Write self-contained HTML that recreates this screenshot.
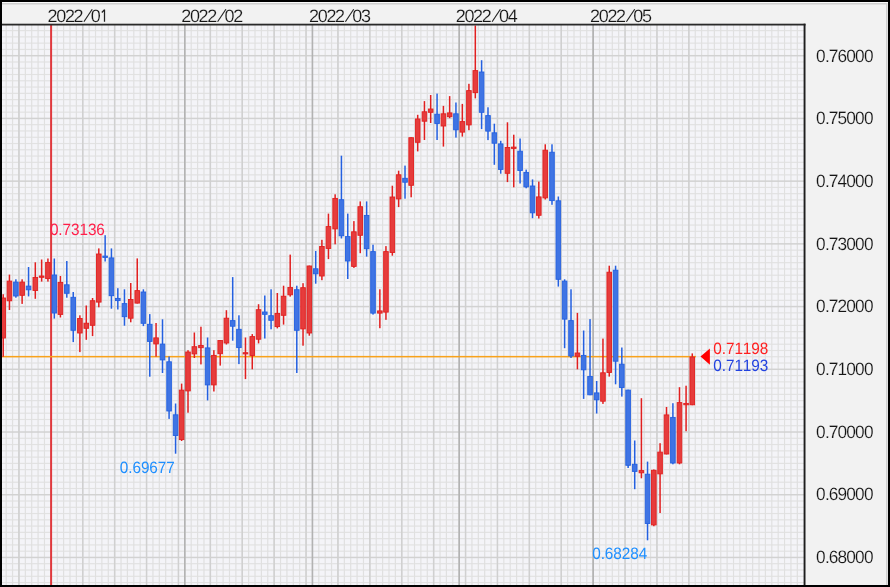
<!DOCTYPE html>
<html><head><meta charset="utf-8"><title>Chart</title>
<style>html,body{margin:0;padding:0;background:#fff;}body{width:890px;height:587px;overflow:hidden;font-family:"Liberation Sans",sans-serif;}</style>
</head><body>
<svg width="890" height="587" viewBox="0 0 890 587" style="display:block">
<rect x="0" y="0" width="890" height="587" fill="#000"/>
<rect x="2" y="2" width="886" height="583" fill="#f2f2f2"/>
<rect x="2" y="2" width="886" height="1" fill="#fafafa"/>
<rect x="2" y="3" width="885" height="1.5" fill="#d0d0d0"/>
<rect x="886" y="3" width="1.5" height="582" fill="#d0d0d0"/>
<rect x="2" y="25" width="802" height="560" fill="#f4f4f8"/>
<defs><clipPath id="pc"><rect x="2" y="25" width="802" height="560"/></clipPath><filter id="bl" x="-5%" y="-5%" width="110%" height="110%"><feGaussianBlur stdDeviation="0.5"/></filter></defs>
<g clip-path="url(#pc)"><g filter="url(#bl)">
<rect x="2" y="30.01" width="802" height="1.2" fill="#e2e2e2"/>
<rect x="2" y="36.28" width="802" height="1.2" fill="#e2e2e2"/>
<rect x="2" y="42.56" width="802" height="1.2" fill="#e2e2e2"/>
<rect x="2" y="48.83" width="802" height="1.2" fill="#e2e2e2"/>
<rect x="2" y="61.37" width="802" height="1.2" fill="#e2e2e2"/>
<rect x="2" y="67.64" width="802" height="1.2" fill="#e2e2e2"/>
<rect x="2" y="73.92" width="802" height="1.2" fill="#e2e2e2"/>
<rect x="2" y="80.19" width="802" height="1.2" fill="#e2e2e2"/>
<rect x="2" y="86.46" width="802" height="1.2" fill="#e2e2e2"/>
<rect x="2" y="92.73" width="802" height="1.2" fill="#e2e2e2"/>
<rect x="2" y="99.00" width="802" height="1.2" fill="#e2e2e2"/>
<rect x="2" y="105.28" width="802" height="1.2" fill="#e2e2e2"/>
<rect x="2" y="111.55" width="802" height="1.2" fill="#e2e2e2"/>
<rect x="2" y="124.09" width="802" height="1.2" fill="#e2e2e2"/>
<rect x="2" y="130.36" width="802" height="1.2" fill="#e2e2e2"/>
<rect x="2" y="136.64" width="802" height="1.2" fill="#e2e2e2"/>
<rect x="2" y="142.91" width="802" height="1.2" fill="#e2e2e2"/>
<rect x="2" y="149.18" width="802" height="1.2" fill="#e2e2e2"/>
<rect x="2" y="155.45" width="802" height="1.2" fill="#e2e2e2"/>
<rect x="2" y="161.72" width="802" height="1.2" fill="#e2e2e2"/>
<rect x="2" y="168.00" width="802" height="1.2" fill="#e2e2e2"/>
<rect x="2" y="174.27" width="802" height="1.2" fill="#e2e2e2"/>
<rect x="2" y="186.81" width="802" height="1.2" fill="#e2e2e2"/>
<rect x="2" y="193.08" width="802" height="1.2" fill="#e2e2e2"/>
<rect x="2" y="199.36" width="802" height="1.2" fill="#e2e2e2"/>
<rect x="2" y="205.63" width="802" height="1.2" fill="#e2e2e2"/>
<rect x="2" y="211.90" width="802" height="1.2" fill="#e2e2e2"/>
<rect x="2" y="218.17" width="802" height="1.2" fill="#e2e2e2"/>
<rect x="2" y="224.44" width="802" height="1.2" fill="#e2e2e2"/>
<rect x="2" y="230.72" width="802" height="1.2" fill="#e2e2e2"/>
<rect x="2" y="236.99" width="802" height="1.2" fill="#e2e2e2"/>
<rect x="2" y="249.53" width="802" height="1.2" fill="#e2e2e2"/>
<rect x="2" y="255.80" width="802" height="1.2" fill="#e2e2e2"/>
<rect x="2" y="262.08" width="802" height="1.2" fill="#e2e2e2"/>
<rect x="2" y="268.35" width="802" height="1.2" fill="#e2e2e2"/>
<rect x="2" y="274.62" width="802" height="1.2" fill="#e2e2e2"/>
<rect x="2" y="280.89" width="802" height="1.2" fill="#e2e2e2"/>
<rect x="2" y="287.16" width="802" height="1.2" fill="#e2e2e2"/>
<rect x="2" y="293.44" width="802" height="1.2" fill="#e2e2e2"/>
<rect x="2" y="299.71" width="802" height="1.2" fill="#e2e2e2"/>
<rect x="2" y="312.25" width="802" height="1.2" fill="#e2e2e2"/>
<rect x="2" y="318.52" width="802" height="1.2" fill="#e2e2e2"/>
<rect x="2" y="324.80" width="802" height="1.2" fill="#e2e2e2"/>
<rect x="2" y="331.07" width="802" height="1.2" fill="#e2e2e2"/>
<rect x="2" y="337.34" width="802" height="1.2" fill="#e2e2e2"/>
<rect x="2" y="343.61" width="802" height="1.2" fill="#e2e2e2"/>
<rect x="2" y="349.88" width="802" height="1.2" fill="#e2e2e2"/>
<rect x="2" y="356.16" width="802" height="1.2" fill="#e2e2e2"/>
<rect x="2" y="362.43" width="802" height="1.2" fill="#e2e2e2"/>
<rect x="2" y="374.97" width="802" height="1.2" fill="#e2e2e2"/>
<rect x="2" y="381.24" width="802" height="1.2" fill="#e2e2e2"/>
<rect x="2" y="387.52" width="802" height="1.2" fill="#e2e2e2"/>
<rect x="2" y="393.79" width="802" height="1.2" fill="#e2e2e2"/>
<rect x="2" y="400.06" width="802" height="1.2" fill="#e2e2e2"/>
<rect x="2" y="406.33" width="802" height="1.2" fill="#e2e2e2"/>
<rect x="2" y="412.60" width="802" height="1.2" fill="#e2e2e2"/>
<rect x="2" y="418.88" width="802" height="1.2" fill="#e2e2e2"/>
<rect x="2" y="425.15" width="802" height="1.2" fill="#e2e2e2"/>
<rect x="2" y="437.69" width="802" height="1.2" fill="#e2e2e2"/>
<rect x="2" y="443.96" width="802" height="1.2" fill="#e2e2e2"/>
<rect x="2" y="450.24" width="802" height="1.2" fill="#e2e2e2"/>
<rect x="2" y="456.51" width="802" height="1.2" fill="#e2e2e2"/>
<rect x="2" y="462.78" width="802" height="1.2" fill="#e2e2e2"/>
<rect x="2" y="469.05" width="802" height="1.2" fill="#e2e2e2"/>
<rect x="2" y="475.32" width="802" height="1.2" fill="#e2e2e2"/>
<rect x="2" y="481.60" width="802" height="1.2" fill="#e2e2e2"/>
<rect x="2" y="487.87" width="802" height="1.2" fill="#e2e2e2"/>
<rect x="2" y="500.41" width="802" height="1.2" fill="#e2e2e2"/>
<rect x="2" y="506.68" width="802" height="1.2" fill="#e2e2e2"/>
<rect x="2" y="512.96" width="802" height="1.2" fill="#e2e2e2"/>
<rect x="2" y="519.23" width="802" height="1.2" fill="#e2e2e2"/>
<rect x="2" y="525.50" width="802" height="1.2" fill="#e2e2e2"/>
<rect x="2" y="531.77" width="802" height="1.2" fill="#e2e2e2"/>
<rect x="2" y="538.04" width="802" height="1.2" fill="#e2e2e2"/>
<rect x="2" y="544.32" width="802" height="1.2" fill="#e2e2e2"/>
<rect x="2" y="550.59" width="802" height="1.2" fill="#e2e2e2"/>
<rect x="2" y="563.13" width="802" height="1.2" fill="#e2e2e2"/>
<rect x="2" y="569.40" width="802" height="1.2" fill="#e2e2e2"/>
<rect x="2" y="575.68" width="802" height="1.2" fill="#e2e2e2"/>
<rect x="2" y="581.95" width="802" height="1.2" fill="#e2e2e2"/>
<rect x="5.59" y="25" width="1.2" height="560" fill="#e0e0e0"/>
<rect x="11.97" y="25" width="1.2" height="560" fill="#e0e0e0"/>
<rect x="18.35" y="25" width="1.2" height="560" fill="#e0e0e0"/>
<rect x="24.73" y="25" width="1.2" height="560" fill="#e0e0e0"/>
<rect x="31.11" y="25" width="1.2" height="560" fill="#e0e0e0"/>
<rect x="37.49" y="25" width="1.2" height="560" fill="#e0e0e0"/>
<rect x="43.87" y="25" width="1.2" height="560" fill="#e0e0e0"/>
<rect x="50.25" y="25" width="1.2" height="560" fill="#e0e0e0"/>
<rect x="56.63" y="25" width="1.2" height="560" fill="#e0e0e0"/>
<rect x="63.01" y="25" width="1.2" height="560" fill="#e0e0e0"/>
<rect x="69.39" y="25" width="1.2" height="560" fill="#e0e0e0"/>
<rect x="75.77" y="25" width="1.2" height="560" fill="#e0e0e0"/>
<rect x="82.15" y="25" width="1.2" height="560" fill="#e0e0e0"/>
<rect x="88.53" y="25" width="1.2" height="560" fill="#e0e0e0"/>
<rect x="94.91" y="25" width="1.2" height="560" fill="#e0e0e0"/>
<rect x="101.29" y="25" width="1.2" height="560" fill="#e0e0e0"/>
<rect x="107.67" y="25" width="1.2" height="560" fill="#e0e0e0"/>
<rect x="114.05" y="25" width="1.2" height="560" fill="#e0e0e0"/>
<rect x="120.43" y="25" width="1.2" height="560" fill="#e0e0e0"/>
<rect x="126.81" y="25" width="1.2" height="560" fill="#e0e0e0"/>
<rect x="133.19" y="25" width="1.2" height="560" fill="#e0e0e0"/>
<rect x="139.57" y="25" width="1.2" height="560" fill="#e0e0e0"/>
<rect x="145.95" y="25" width="1.2" height="560" fill="#e0e0e0"/>
<rect x="152.33" y="25" width="1.2" height="560" fill="#e0e0e0"/>
<rect x="158.71" y="25" width="1.2" height="560" fill="#e0e0e0"/>
<rect x="165.09" y="25" width="1.2" height="560" fill="#e0e0e0"/>
<rect x="171.47" y="25" width="1.2" height="560" fill="#e0e0e0"/>
<rect x="177.85" y="25" width="1.2" height="560" fill="#e0e0e0"/>
<rect x="184.23" y="25" width="1.2" height="560" fill="#e0e0e0"/>
<rect x="190.61" y="25" width="1.2" height="560" fill="#e0e0e0"/>
<rect x="196.99" y="25" width="1.2" height="560" fill="#e0e0e0"/>
<rect x="203.37" y="25" width="1.2" height="560" fill="#e0e0e0"/>
<rect x="209.75" y="25" width="1.2" height="560" fill="#e0e0e0"/>
<rect x="216.13" y="25" width="1.2" height="560" fill="#e0e0e0"/>
<rect x="222.51" y="25" width="1.2" height="560" fill="#e0e0e0"/>
<rect x="228.89" y="25" width="1.2" height="560" fill="#e0e0e0"/>
<rect x="235.27" y="25" width="1.2" height="560" fill="#e0e0e0"/>
<rect x="241.65" y="25" width="1.2" height="560" fill="#e0e0e0"/>
<rect x="248.03" y="25" width="1.2" height="560" fill="#e0e0e0"/>
<rect x="254.41" y="25" width="1.2" height="560" fill="#e0e0e0"/>
<rect x="260.79" y="25" width="1.2" height="560" fill="#e0e0e0"/>
<rect x="267.17" y="25" width="1.2" height="560" fill="#e0e0e0"/>
<rect x="273.55" y="25" width="1.2" height="560" fill="#e0e0e0"/>
<rect x="279.93" y="25" width="1.2" height="560" fill="#e0e0e0"/>
<rect x="286.31" y="25" width="1.2" height="560" fill="#e0e0e0"/>
<rect x="292.69" y="25" width="1.2" height="560" fill="#e0e0e0"/>
<rect x="299.07" y="25" width="1.2" height="560" fill="#e0e0e0"/>
<rect x="305.45" y="25" width="1.2" height="560" fill="#e0e0e0"/>
<rect x="311.83" y="25" width="1.2" height="560" fill="#e0e0e0"/>
<rect x="318.21" y="25" width="1.2" height="560" fill="#e0e0e0"/>
<rect x="324.59" y="25" width="1.2" height="560" fill="#e0e0e0"/>
<rect x="330.97" y="25" width="1.2" height="560" fill="#e0e0e0"/>
<rect x="337.35" y="25" width="1.2" height="560" fill="#e0e0e0"/>
<rect x="343.73" y="25" width="1.2" height="560" fill="#e0e0e0"/>
<rect x="350.11" y="25" width="1.2" height="560" fill="#e0e0e0"/>
<rect x="356.49" y="25" width="1.2" height="560" fill="#e0e0e0"/>
<rect x="362.87" y="25" width="1.2" height="560" fill="#e0e0e0"/>
<rect x="369.25" y="25" width="1.2" height="560" fill="#e0e0e0"/>
<rect x="375.63" y="25" width="1.2" height="560" fill="#e0e0e0"/>
<rect x="382.01" y="25" width="1.2" height="560" fill="#e0e0e0"/>
<rect x="388.39" y="25" width="1.2" height="560" fill="#e0e0e0"/>
<rect x="394.77" y="25" width="1.2" height="560" fill="#e0e0e0"/>
<rect x="401.15" y="25" width="1.2" height="560" fill="#e0e0e0"/>
<rect x="407.53" y="25" width="1.2" height="560" fill="#e0e0e0"/>
<rect x="413.91" y="25" width="1.2" height="560" fill="#e0e0e0"/>
<rect x="420.29" y="25" width="1.2" height="560" fill="#e0e0e0"/>
<rect x="426.67" y="25" width="1.2" height="560" fill="#e0e0e0"/>
<rect x="433.05" y="25" width="1.2" height="560" fill="#e0e0e0"/>
<rect x="439.43" y="25" width="1.2" height="560" fill="#e0e0e0"/>
<rect x="445.81" y="25" width="1.2" height="560" fill="#e0e0e0"/>
<rect x="452.19" y="25" width="1.2" height="560" fill="#e0e0e0"/>
<rect x="458.57" y="25" width="1.2" height="560" fill="#e0e0e0"/>
<rect x="464.95" y="25" width="1.2" height="560" fill="#e0e0e0"/>
<rect x="471.33" y="25" width="1.2" height="560" fill="#e0e0e0"/>
<rect x="477.71" y="25" width="1.2" height="560" fill="#e0e0e0"/>
<rect x="484.09" y="25" width="1.2" height="560" fill="#e0e0e0"/>
<rect x="490.47" y="25" width="1.2" height="560" fill="#e0e0e0"/>
<rect x="496.85" y="25" width="1.2" height="560" fill="#e0e0e0"/>
<rect x="503.23" y="25" width="1.2" height="560" fill="#e0e0e0"/>
<rect x="509.61" y="25" width="1.2" height="560" fill="#e0e0e0"/>
<rect x="515.99" y="25" width="1.2" height="560" fill="#e0e0e0"/>
<rect x="522.37" y="25" width="1.2" height="560" fill="#e0e0e0"/>
<rect x="528.75" y="25" width="1.2" height="560" fill="#e0e0e0"/>
<rect x="535.13" y="25" width="1.2" height="560" fill="#e0e0e0"/>
<rect x="541.51" y="25" width="1.2" height="560" fill="#e0e0e0"/>
<rect x="547.89" y="25" width="1.2" height="560" fill="#e0e0e0"/>
<rect x="554.27" y="25" width="1.2" height="560" fill="#e0e0e0"/>
<rect x="560.65" y="25" width="1.2" height="560" fill="#e0e0e0"/>
<rect x="567.03" y="25" width="1.2" height="560" fill="#e0e0e0"/>
<rect x="573.41" y="25" width="1.2" height="560" fill="#e0e0e0"/>
<rect x="579.79" y="25" width="1.2" height="560" fill="#e0e0e0"/>
<rect x="586.17" y="25" width="1.2" height="560" fill="#e0e0e0"/>
<rect x="592.55" y="25" width="1.2" height="560" fill="#e0e0e0"/>
<rect x="598.93" y="25" width="1.2" height="560" fill="#e0e0e0"/>
<rect x="605.31" y="25" width="1.2" height="560" fill="#e0e0e0"/>
<rect x="611.69" y="25" width="1.2" height="560" fill="#e0e0e0"/>
<rect x="618.07" y="25" width="1.2" height="560" fill="#e0e0e0"/>
<rect x="624.45" y="25" width="1.2" height="560" fill="#e0e0e0"/>
<rect x="630.83" y="25" width="1.2" height="560" fill="#e0e0e0"/>
<rect x="637.21" y="25" width="1.2" height="560" fill="#e0e0e0"/>
<rect x="643.59" y="25" width="1.2" height="560" fill="#e0e0e0"/>
<rect x="649.97" y="25" width="1.2" height="560" fill="#e0e0e0"/>
<rect x="656.35" y="25" width="1.2" height="560" fill="#e0e0e0"/>
<rect x="662.73" y="25" width="1.2" height="560" fill="#e0e0e0"/>
<rect x="669.11" y="25" width="1.2" height="560" fill="#e0e0e0"/>
<rect x="675.49" y="25" width="1.2" height="560" fill="#e0e0e0"/>
<rect x="681.87" y="25" width="1.2" height="560" fill="#e0e0e0"/>
<rect x="688.25" y="25" width="1.2" height="560" fill="#e0e0e0"/>
<rect x="694.63" y="25" width="1.2" height="560" fill="#e0e0e0"/>
<rect x="701.01" y="25" width="1.2" height="560" fill="#e0e0e0"/>
<rect x="707.39" y="25" width="1.2" height="560" fill="#e0e0e0"/>
<rect x="713.77" y="25" width="1.2" height="560" fill="#e0e0e0"/>
<rect x="720.15" y="25" width="1.2" height="560" fill="#e0e0e0"/>
<rect x="726.53" y="25" width="1.2" height="560" fill="#e0e0e0"/>
<rect x="732.91" y="25" width="1.2" height="560" fill="#e0e0e0"/>
<rect x="739.29" y="25" width="1.2" height="560" fill="#e0e0e0"/>
<rect x="745.67" y="25" width="1.2" height="560" fill="#e0e0e0"/>
<rect x="752.05" y="25" width="1.2" height="560" fill="#e0e0e0"/>
<rect x="758.43" y="25" width="1.2" height="560" fill="#e0e0e0"/>
<rect x="764.81" y="25" width="1.2" height="560" fill="#e0e0e0"/>
<rect x="771.19" y="25" width="1.2" height="560" fill="#e0e0e0"/>
<rect x="777.57" y="25" width="1.2" height="560" fill="#e0e0e0"/>
<rect x="783.95" y="25" width="1.2" height="560" fill="#e0e0e0"/>
<rect x="790.33" y="25" width="1.2" height="560" fill="#e0e0e0"/>
<rect x="796.71" y="25" width="1.2" height="560" fill="#e0e0e0"/>
<rect x="2" y="54.95" width="802" height="1.5" fill="#d2d2d2"/>
<rect x="2" y="117.67" width="802" height="1.5" fill="#d2d2d2"/>
<rect x="2" y="180.39" width="802" height="1.5" fill="#d2d2d2"/>
<rect x="2" y="243.11" width="802" height="1.5" fill="#d2d2d2"/>
<rect x="2" y="305.83" width="802" height="1.5" fill="#d2d2d2"/>
<rect x="2" y="368.55" width="802" height="1.5" fill="#d2d2d2"/>
<rect x="2" y="431.27" width="802" height="1.5" fill="#d2d2d2"/>
<rect x="2" y="493.99" width="802" height="1.5" fill="#d2d2d2"/>
<rect x="2" y="556.71" width="802" height="1.5" fill="#d2d2d2"/>
<rect x="18.20" y="25" width="1.5" height="560" fill="#d0d0d0"/>
<rect x="82.00" y="25" width="1.5" height="560" fill="#d0d0d0"/>
<rect x="113.90" y="25" width="1.5" height="560" fill="#d0d0d0"/>
<rect x="145.80" y="25" width="1.5" height="560" fill="#d0d0d0"/>
<rect x="177.70" y="25" width="1.5" height="560" fill="#d0d0d0"/>
<rect x="209.60" y="25" width="1.5" height="560" fill="#d0d0d0"/>
<rect x="241.50" y="25" width="1.5" height="560" fill="#d0d0d0"/>
<rect x="273.40" y="25" width="1.5" height="560" fill="#d0d0d0"/>
<rect x="305.30" y="25" width="1.5" height="560" fill="#d0d0d0"/>
<rect x="337.20" y="25" width="1.5" height="560" fill="#d0d0d0"/>
<rect x="369.10" y="25" width="1.5" height="560" fill="#d0d0d0"/>
<rect x="401.00" y="25" width="1.5" height="560" fill="#d0d0d0"/>
<rect x="432.90" y="25" width="1.5" height="560" fill="#d0d0d0"/>
<rect x="464.80" y="25" width="1.5" height="560" fill="#d0d0d0"/>
<rect x="496.70" y="25" width="1.5" height="560" fill="#d0d0d0"/>
<rect x="528.60" y="25" width="1.5" height="560" fill="#d0d0d0"/>
<rect x="560.50" y="25" width="1.5" height="560" fill="#d0d0d0"/>
<rect x="592.40" y="25" width="1.5" height="560" fill="#d0d0d0"/>
<rect x="624.30" y="25" width="1.5" height="560" fill="#d0d0d0"/>
<rect x="656.20" y="25" width="1.5" height="560" fill="#d0d0d0"/>
<rect x="688.10" y="25" width="1.5" height="560" fill="#d0d0d0"/>
<rect x="184.03" y="25" width="1.6" height="560" fill="#b2b2b2"/>
<rect x="311.63" y="25" width="1.6" height="560" fill="#b2b2b2"/>
<rect x="458.37" y="25" width="1.6" height="560" fill="#b2b2b2"/>
<rect x="592.35" y="25" width="1.6" height="560" fill="#b2b2b2"/>
<rect x="50.1" y="25" width="2" height="560" fill="#e0393d"/>
</g>
<rect x="2" y="355.9" width="694" height="1.5" fill="#f9a21a"/>
<rect x="2.45" y="294.2" width="1.5" height="62.6" fill="#e11f1f"/>
<rect x="0.90" y="298.0" width="4.6" height="40.0" fill="#e63c3c" stroke="#e11f1f" stroke-width="0.9"/>
<rect x="8.69" y="274.6" width="1.5" height="35.4" fill="#e11f1f"/>
<rect x="7.14" y="281.1" width="4.6" height="19.7" fill="#e63c3c" stroke="#e11f1f" stroke-width="0.9"/>
<rect x="15.13" y="279.3" width="1.5" height="18.4" fill="#2460e0"/>
<rect x="13.58" y="282.1" width="4.6" height="13.9" fill="#3f74e4" stroke="#2460e0" stroke-width="0.9"/>
<rect x="21.37" y="279.3" width="1.5" height="24.6" fill="#e11f1f"/>
<rect x="19.82" y="282.1" width="4.6" height="13.2" fill="#e63c3c" stroke="#e11f1f" stroke-width="0.9"/>
<rect x="27.81" y="267.0" width="1.5" height="29.4" fill="#2460e0"/>
<rect x="26.26" y="286.1" width="4.6" height="3.7" fill="#3f74e4" stroke="#2460e0" stroke-width="0.9"/>
<rect x="34.55" y="262.3" width="1.5" height="36.5" fill="#e11f1f"/>
<rect x="33.00" y="277.4" width="4.6" height="13.1" fill="#e63c3c" stroke="#e11f1f" stroke-width="0.9"/>
<rect x="40.89" y="259.5" width="1.5" height="22.1" fill="#e11f1f"/>
<rect x="39.34" y="276.0" width="4.6" height="1.3" fill="#e63c3c" stroke="#e11f1f" stroke-width="0.9"/>
<rect x="47.18" y="258.5" width="1.5" height="23.1" fill="#e11f1f"/>
<rect x="45.63" y="262.4" width="4.6" height="16.2" fill="#e63c3c" stroke="#e11f1f" stroke-width="0.9"/>
<rect x="53.57" y="258.5" width="1.5" height="60.1" fill="#2460e0"/>
<rect x="52.02" y="275.0" width="4.6" height="38.0" fill="#3f74e4" stroke="#2460e0" stroke-width="0.9"/>
<rect x="59.66" y="276.0" width="1.5" height="41.5" fill="#e11f1f"/>
<rect x="58.11" y="282.4" width="4.6" height="32.0" fill="#e63c3c" stroke="#e11f1f" stroke-width="0.9"/>
<rect x="66.05" y="261.0" width="1.5" height="36.7" fill="#2460e0"/>
<rect x="64.50" y="284.8" width="4.6" height="8.5" fill="#3f74e4" stroke="#2460e0" stroke-width="0.9"/>
<rect x="72.49" y="292.0" width="1.5" height="50.1" fill="#2460e0"/>
<rect x="70.94" y="297.3" width="4.6" height="33.0" fill="#3f74e4" stroke="#2460e0" stroke-width="0.9"/>
<rect x="79.13" y="315.3" width="1.5" height="36.8" fill="#e11f1f"/>
<rect x="77.58" y="318.5" width="4.6" height="14.5" fill="#e63c3c" stroke="#e11f1f" stroke-width="0.9"/>
<rect x="85.52" y="305.5" width="1.5" height="34.3" fill="#e11f1f"/>
<rect x="83.97" y="323.2" width="4.6" height="5.1" fill="#e63c3c" stroke="#e11f1f" stroke-width="0.9"/>
<rect x="91.81" y="298.0" width="1.5" height="38.1" fill="#e11f1f"/>
<rect x="90.26" y="300.7" width="4.6" height="24.6" fill="#e63c3c" stroke="#e11f1f" stroke-width="0.9"/>
<rect x="98.05" y="248.4" width="1.5" height="58.9" fill="#e11f1f"/>
<rect x="96.50" y="254.0" width="4.6" height="48.1" fill="#e63c3c" stroke="#e11f1f" stroke-width="0.9"/>
<rect x="104.39" y="235.2" width="1.5" height="26.3" fill="#2460e0"/>
<rect x="102.84" y="256.1" width="4.6" height="1.3" fill="#3f74e4" stroke="#2460e0" stroke-width="0.9"/>
<rect x="110.68" y="248.4" width="1.5" height="60.3" fill="#2460e0"/>
<rect x="109.13" y="257.9" width="4.6" height="37.8" fill="#3f74e4" stroke="#2460e0" stroke-width="0.9"/>
<rect x="117.07" y="288.2" width="1.5" height="21.3" fill="#2460e0"/>
<rect x="115.52" y="298.4" width="4.6" height="2.2" fill="#3f74e4" stroke="#2460e0" stroke-width="0.9"/>
<rect x="123.71" y="289.3" width="1.5" height="36.4" fill="#2460e0"/>
<rect x="122.16" y="303.6" width="4.6" height="13.1" fill="#3f74e4" stroke="#2460e0" stroke-width="0.9"/>
<rect x="130.00" y="283.0" width="1.5" height="39.3" fill="#e11f1f"/>
<rect x="128.45" y="299.5" width="4.6" height="18.7" fill="#e63c3c" stroke="#e11f1f" stroke-width="0.9"/>
<rect x="136.49" y="258.4" width="1.5" height="45.1" fill="#e11f1f"/>
<rect x="134.94" y="290.6" width="4.6" height="12.5" fill="#e63c3c" stroke="#e11f1f" stroke-width="0.9"/>
<rect x="142.63" y="289.3" width="1.5" height="36.8" fill="#2460e0"/>
<rect x="141.08" y="292.0" width="4.6" height="31.3" fill="#3f74e4" stroke="#2460e0" stroke-width="0.9"/>
<rect x="149.02" y="314.1" width="1.5" height="62.6" fill="#2460e0"/>
<rect x="147.47" y="324.3" width="4.6" height="17.1" fill="#3f74e4" stroke="#2460e0" stroke-width="0.9"/>
<rect x="155.31" y="323.0" width="1.5" height="33.6" fill="#e11f1f"/>
<rect x="153.76" y="337.9" width="4.6" height="6.0" fill="#e63c3c" stroke="#e11f1f" stroke-width="0.9"/>
<rect x="161.75" y="319.3" width="1.5" height="53.7" fill="#2460e0"/>
<rect x="160.20" y="344.1" width="4.6" height="15.8" fill="#3f74e4" stroke="#2460e0" stroke-width="0.9"/>
<rect x="168.34" y="356.5" width="1.5" height="62.4" fill="#2460e0"/>
<rect x="166.79" y="361.8" width="4.6" height="49.2" fill="#3f74e4" stroke="#2460e0" stroke-width="0.9"/>
<rect x="174.83" y="403.5" width="1.5" height="50.2" fill="#2460e0"/>
<rect x="173.28" y="414.8" width="4.6" height="20.7" fill="#3f74e4" stroke="#2460e0" stroke-width="0.9"/>
<rect x="180.87" y="383.6" width="1.5" height="57.4" fill="#e11f1f"/>
<rect x="179.32" y="390.1" width="4.6" height="49.5" fill="#e63c3c" stroke="#e11f1f" stroke-width="0.9"/>
<rect x="187.26" y="350.2" width="1.5" height="62.5" fill="#e11f1f"/>
<rect x="185.71" y="352.0" width="4.6" height="38.9" fill="#e63c3c" stroke="#e11f1f" stroke-width="0.9"/>
<rect x="193.60" y="332.5" width="1.5" height="25.5" fill="#e11f1f"/>
<rect x="192.05" y="346.7" width="4.6" height="7.2" fill="#e63c3c" stroke="#e11f1f" stroke-width="0.9"/>
<rect x="200.19" y="326.7" width="1.5" height="37.7" fill="#e11f1f"/>
<rect x="198.64" y="345.5" width="4.6" height="2.2" fill="#e63c3c" stroke="#e11f1f" stroke-width="0.9"/>
<rect x="206.83" y="337.5" width="1.5" height="62.9" fill="#2460e0"/>
<rect x="205.28" y="347.9" width="4.6" height="37.0" fill="#3f74e4" stroke="#2460e0" stroke-width="0.9"/>
<rect x="213.12" y="350.2" width="1.5" height="41.3" fill="#e11f1f"/>
<rect x="211.57" y="355.4" width="4.6" height="29.5" fill="#e63c3c" stroke="#e11f1f" stroke-width="0.9"/>
<rect x="219.46" y="340.1" width="1.5" height="25.5" fill="#e11f1f"/>
<rect x="217.91" y="340.5" width="4.6" height="13.2" fill="#e63c3c" stroke="#e11f1f" stroke-width="0.9"/>
<rect x="225.65" y="310.2" width="1.5" height="34.3" fill="#e11f1f"/>
<rect x="224.10" y="318.2" width="4.6" height="24.8" fill="#e63c3c" stroke="#e11f1f" stroke-width="0.9"/>
<rect x="231.94" y="277.1" width="1.5" height="63.6" fill="#2460e0"/>
<rect x="230.39" y="320.6" width="4.6" height="5.6" fill="#3f74e4" stroke="#2460e0" stroke-width="0.9"/>
<rect x="238.18" y="315.3" width="1.5" height="48.8" fill="#2460e0"/>
<rect x="236.63" y="329.3" width="4.6" height="18.3" fill="#3f74e4" stroke="#2460e0" stroke-width="0.9"/>
<rect x="244.72" y="337.5" width="1.5" height="41.6" fill="#e11f1f"/>
<rect x="243.17" y="352.7" width="4.6" height="1.2" fill="#e63c3c" stroke="#e11f1f" stroke-width="0.9"/>
<rect x="251.51" y="334.1" width="1.5" height="35.2" fill="#e11f1f"/>
<rect x="249.96" y="336.6" width="4.6" height="18.9" fill="#e63c3c" stroke="#e11f1f" stroke-width="0.9"/>
<rect x="257.80" y="304.2" width="1.5" height="39.2" fill="#e11f1f"/>
<rect x="256.25" y="309.7" width="4.6" height="29.5" fill="#e63c3c" stroke="#e11f1f" stroke-width="0.9"/>
<rect x="264.04" y="295.5" width="1.5" height="43.0" fill="#2460e0"/>
<rect x="262.49" y="312.0" width="4.6" height="2.3" fill="#3f74e4" stroke="#2460e0" stroke-width="0.9"/>
<rect x="270.33" y="289.3" width="1.5" height="40.0" fill="#2460e0"/>
<rect x="268.78" y="315.7" width="4.6" height="4.6" fill="#3f74e4" stroke="#2460e0" stroke-width="0.9"/>
<rect x="276.57" y="293.0" width="1.5" height="35.4" fill="#e11f1f"/>
<rect x="275.02" y="313.4" width="4.6" height="13.2" fill="#e63c3c" stroke="#e11f1f" stroke-width="0.9"/>
<rect x="282.81" y="285.7" width="1.5" height="38.9" fill="#e11f1f"/>
<rect x="281.26" y="296.2" width="4.6" height="19.1" fill="#e63c3c" stroke="#e11f1f" stroke-width="0.9"/>
<rect x="289.45" y="254.6" width="1.5" height="42.0" fill="#e11f1f"/>
<rect x="287.90" y="287.4" width="4.6" height="7.4" fill="#e63c3c" stroke="#e11f1f" stroke-width="0.9"/>
<rect x="296.04" y="285.7" width="1.5" height="87.3" fill="#2460e0"/>
<rect x="294.49" y="289.7" width="4.6" height="40.6" fill="#3f74e4" stroke="#2460e0" stroke-width="0.9"/>
<rect x="302.28" y="283.2" width="1.5" height="62.5" fill="#e11f1f"/>
<rect x="300.73" y="287.7" width="4.6" height="41.2" fill="#e63c3c" stroke="#e11f1f" stroke-width="0.9"/>
<rect x="308.57" y="265.6" width="1.5" height="70.1" fill="#e11f1f"/>
<rect x="307.02" y="266.0" width="4.6" height="67.0" fill="#e63c3c" stroke="#e11f1f" stroke-width="0.9"/>
<rect x="314.96" y="251.0" width="1.5" height="32.7" fill="#2460e0"/>
<rect x="313.41" y="268.8" width="4.6" height="5.0" fill="#3f74e4" stroke="#2460e0" stroke-width="0.9"/>
<rect x="321.15" y="239.8" width="1.5" height="40.4" fill="#e11f1f"/>
<rect x="319.60" y="246.5" width="4.6" height="29.5" fill="#e63c3c" stroke="#e11f1f" stroke-width="0.9"/>
<rect x="327.69" y="213.6" width="1.5" height="45.5" fill="#e11f1f"/>
<rect x="326.14" y="226.6" width="4.6" height="21.8" fill="#e63c3c" stroke="#e11f1f" stroke-width="0.9"/>
<rect x="334.38" y="194.3" width="1.5" height="50.0" fill="#e11f1f"/>
<rect x="332.83" y="198.4" width="4.6" height="30.5" fill="#e63c3c" stroke="#e11f1f" stroke-width="0.9"/>
<rect x="340.67" y="155.7" width="1.5" height="82.8" fill="#2460e0"/>
<rect x="339.12" y="199.7" width="4.6" height="36.1" fill="#3f74e4" stroke="#2460e0" stroke-width="0.9"/>
<rect x="347.01" y="213.6" width="1.5" height="65.4" fill="#2460e0"/>
<rect x="345.46" y="236.6" width="4.6" height="24.4" fill="#3f74e4" stroke="#2460e0" stroke-width="0.9"/>
<rect x="353.15" y="221.1" width="1.5" height="46.8" fill="#e11f1f"/>
<rect x="351.60" y="231.8" width="4.6" height="34.6" fill="#e63c3c" stroke="#e11f1f" stroke-width="0.9"/>
<rect x="359.49" y="201.4" width="1.5" height="51.8" fill="#e11f1f"/>
<rect x="357.94" y="206.7" width="4.6" height="28.6" fill="#e63c3c" stroke="#e11f1f" stroke-width="0.9"/>
<rect x="365.88" y="201.4" width="1.5" height="55.2" fill="#2460e0"/>
<rect x="364.33" y="215.4" width="4.6" height="33.3" fill="#3f74e4" stroke="#2460e0" stroke-width="0.9"/>
<rect x="372.27" y="244.7" width="1.5" height="69.9" fill="#2460e0"/>
<rect x="370.72" y="251.6" width="4.6" height="61.5" fill="#3f74e4" stroke="#2460e0" stroke-width="0.9"/>
<rect x="379.11" y="289.3" width="1.5" height="38.9" fill="#e11f1f"/>
<rect x="377.56" y="310.9" width="4.6" height="2.2" fill="#e63c3c" stroke="#e11f1f" stroke-width="0.9"/>
<rect x="385.20" y="246.1" width="1.5" height="73.7" fill="#e11f1f"/>
<rect x="383.65" y="251.6" width="4.6" height="60.5" fill="#e63c3c" stroke="#e11f1f" stroke-width="0.9"/>
<rect x="391.59" y="185.7" width="1.5" height="70.0" fill="#e11f1f"/>
<rect x="390.04" y="197.0" width="4.6" height="55.5" fill="#e63c3c" stroke="#e11f1f" stroke-width="0.9"/>
<rect x="397.88" y="170.7" width="1.5" height="36.4" fill="#e11f1f"/>
<rect x="396.33" y="174.8" width="4.6" height="24.1" fill="#e63c3c" stroke="#e11f1f" stroke-width="0.9"/>
<rect x="404.27" y="165.6" width="1.5" height="33.1" fill="#2460e0"/>
<rect x="402.72" y="178.3" width="4.6" height="3.9" fill="#3f74e4" stroke="#2460e0" stroke-width="0.9"/>
<rect x="410.41" y="137.3" width="1.5" height="60.0" fill="#e11f1f"/>
<rect x="408.86" y="137.7" width="4.6" height="47.6" fill="#e63c3c" stroke="#e11f1f" stroke-width="0.9"/>
<rect x="416.95" y="114.8" width="1.5" height="36.6" fill="#e11f1f"/>
<rect x="415.40" y="119.0" width="4.6" height="23.3" fill="#e63c3c" stroke="#e11f1f" stroke-width="0.9"/>
<rect x="423.69" y="101.1" width="1.5" height="38.9" fill="#e11f1f"/>
<rect x="422.14" y="111.8" width="4.6" height="9.4" fill="#e63c3c" stroke="#e11f1f" stroke-width="0.9"/>
<rect x="429.93" y="95.0" width="1.5" height="28.0" fill="#e11f1f"/>
<rect x="428.38" y="109.0" width="4.6" height="3.3" fill="#e63c3c" stroke="#e11f1f" stroke-width="0.9"/>
<rect x="436.32" y="93.6" width="1.5" height="46.4" fill="#2460e0"/>
<rect x="434.77" y="114.2" width="4.6" height="9.3" fill="#3f74e4" stroke="#2460e0" stroke-width="0.9"/>
<rect x="442.66" y="105.9" width="1.5" height="40.7" fill="#e11f1f"/>
<rect x="441.11" y="113.8" width="4.6" height="12.2" fill="#e63c3c" stroke="#e11f1f" stroke-width="0.9"/>
<rect x="448.90" y="96.1" width="1.5" height="22.1" fill="#e11f1f"/>
<rect x="447.35" y="112.9" width="4.6" height="3.8" fill="#e63c3c" stroke="#e11f1f" stroke-width="0.9"/>
<rect x="455.19" y="102.5" width="1.5" height="35.1" fill="#2460e0"/>
<rect x="453.64" y="113.8" width="4.6" height="16.0" fill="#3f74e4" stroke="#2460e0" stroke-width="0.9"/>
<rect x="461.58" y="103.9" width="1.5" height="32.7" fill="#e11f1f"/>
<rect x="460.03" y="121.6" width="4.6" height="10.5" fill="#e63c3c" stroke="#e11f1f" stroke-width="0.9"/>
<rect x="468.17" y="83.8" width="1.5" height="46.4" fill="#e11f1f"/>
<rect x="466.62" y="90.6" width="4.6" height="34.3" fill="#e63c3c" stroke="#e11f1f" stroke-width="0.9"/>
<rect x="474.56" y="25.5" width="1.5" height="72.9" fill="#e11f1f"/>
<rect x="473.01" y="70.6" width="4.6" height="22.0" fill="#e63c3c" stroke="#e11f1f" stroke-width="0.9"/>
<rect x="480.85" y="60.2" width="1.5" height="68.9" fill="#2460e0"/>
<rect x="479.30" y="72.0" width="4.6" height="40.3" fill="#3f74e4" stroke="#2460e0" stroke-width="0.9"/>
<rect x="487.24" y="107.3" width="1.5" height="32.8" fill="#2460e0"/>
<rect x="485.69" y="115.6" width="4.6" height="15.5" fill="#3f74e4" stroke="#2460e0" stroke-width="0.9"/>
<rect x="493.58" y="123.7" width="1.5" height="41.1" fill="#2460e0"/>
<rect x="492.03" y="132.8" width="4.6" height="10.4" fill="#3f74e4" stroke="#2460e0" stroke-width="0.9"/>
<rect x="499.97" y="140.8" width="1.5" height="32.9" fill="#2460e0"/>
<rect x="498.42" y="143.9" width="4.6" height="25.5" fill="#3f74e4" stroke="#2460e0" stroke-width="0.9"/>
<rect x="506.71" y="122.3" width="1.5" height="59.8" fill="#e11f1f"/>
<rect x="505.16" y="147.5" width="4.6" height="25.8" fill="#e63c3c" stroke="#e11f1f" stroke-width="0.9"/>
<rect x="513.00" y="134.7" width="1.5" height="52.6" fill="#e11f1f"/>
<rect x="511.45" y="147.1" width="4.6" height="1.3" fill="#e63c3c" stroke="#e11f1f" stroke-width="0.9"/>
<rect x="519.34" y="138.5" width="1.5" height="45.0" fill="#2460e0"/>
<rect x="517.79" y="151.2" width="4.6" height="19.3" fill="#3f74e4" stroke="#2460e0" stroke-width="0.9"/>
<rect x="525.43" y="169.6" width="1.5" height="18.7" fill="#2460e0"/>
<rect x="523.88" y="172.4" width="4.6" height="14.5" fill="#3f74e4" stroke="#2460e0" stroke-width="0.9"/>
<rect x="531.77" y="179.4" width="1.5" height="38.8" fill="#2460e0"/>
<rect x="530.22" y="186.0" width="4.6" height="26.8" fill="#3f74e4" stroke="#2460e0" stroke-width="0.9"/>
<rect x="538.06" y="181.6" width="1.5" height="36.9" fill="#e11f1f"/>
<rect x="536.51" y="196.9" width="4.6" height="18.4" fill="#e63c3c" stroke="#e11f1f" stroke-width="0.9"/>
<rect x="544.50" y="144.3" width="1.5" height="55.2" fill="#e11f1f"/>
<rect x="542.95" y="150.2" width="4.6" height="47.7" fill="#e63c3c" stroke="#e11f1f" stroke-width="0.9"/>
<rect x="551.24" y="144.3" width="1.5" height="60.5" fill="#2460e0"/>
<rect x="549.69" y="152.2" width="4.6" height="48.4" fill="#3f74e4" stroke="#2460e0" stroke-width="0.9"/>
<rect x="557.58" y="196.5" width="1.5" height="90.1" fill="#2460e0"/>
<rect x="556.03" y="200.8" width="4.6" height="78.5" fill="#3f74e4" stroke="#2460e0" stroke-width="0.9"/>
<rect x="563.87" y="279.3" width="1.5" height="68.9" fill="#2460e0"/>
<rect x="562.32" y="281.1" width="4.6" height="38.0" fill="#3f74e4" stroke="#2460e0" stroke-width="0.9"/>
<rect x="570.26" y="289.3" width="1.5" height="68.7" fill="#2460e0"/>
<rect x="568.71" y="320.6" width="4.6" height="35.4" fill="#3f74e4" stroke="#2460e0" stroke-width="0.9"/>
<rect x="576.65" y="312.9" width="1.5" height="56.4" fill="#e11f1f"/>
<rect x="575.10" y="353.0" width="4.6" height="3.3" fill="#e63c3c" stroke="#e11f1f" stroke-width="0.9"/>
<rect x="582.89" y="330.5" width="1.5" height="68.4" fill="#2460e0"/>
<rect x="581.34" y="355.4" width="4.6" height="14.4" fill="#3f74e4" stroke="#2460e0" stroke-width="0.9"/>
<rect x="589.28" y="319.1" width="1.5" height="76.1" fill="#2460e0"/>
<rect x="587.73" y="376.5" width="4.6" height="18.3" fill="#3f74e4" stroke="#2460e0" stroke-width="0.9"/>
<rect x="595.92" y="381.0" width="1.5" height="32.5" fill="#2460e0"/>
<rect x="594.37" y="392.9" width="4.6" height="6.9" fill="#3f74e4" stroke="#2460e0" stroke-width="0.9"/>
<rect x="602.21" y="338.6" width="1.5" height="65.3" fill="#e11f1f"/>
<rect x="600.66" y="372.8" width="4.6" height="28.4" fill="#e63c3c" stroke="#e11f1f" stroke-width="0.9"/>
<rect x="608.50" y="265.7" width="1.5" height="110.9" fill="#e11f1f"/>
<rect x="606.95" y="272.2" width="4.6" height="100.3" fill="#e63c3c" stroke="#e11f1f" stroke-width="0.9"/>
<rect x="614.84" y="265.7" width="1.5" height="118.6" fill="#2460e0"/>
<rect x="613.29" y="270.2" width="4.6" height="91.0" fill="#3f74e4" stroke="#2460e0" stroke-width="0.9"/>
<rect x="621.08" y="347.5" width="1.5" height="49.1" fill="#2460e0"/>
<rect x="619.53" y="364.2" width="4.6" height="23.3" fill="#3f74e4" stroke="#2460e0" stroke-width="0.9"/>
<rect x="627.37" y="389.7" width="1.5" height="78.3" fill="#2460e0"/>
<rect x="625.82" y="390.1" width="4.6" height="75.2" fill="#3f74e4" stroke="#2460e0" stroke-width="0.9"/>
<rect x="633.96" y="440.5" width="1.5" height="48.7" fill="#2460e0"/>
<rect x="632.41" y="464.3" width="4.6" height="7.1" fill="#3f74e4" stroke="#2460e0" stroke-width="0.9"/>
<rect x="640.65" y="398.2" width="1.5" height="80.1" fill="#e11f1f"/>
<rect x="639.10" y="470.6" width="4.6" height="2.2" fill="#e63c3c" stroke="#e11f1f" stroke-width="0.9"/>
<rect x="646.79" y="461.6" width="1.5" height="78.7" fill="#2460e0"/>
<rect x="645.24" y="474.2" width="4.6" height="49.3" fill="#3f74e4" stroke="#2460e0" stroke-width="0.9"/>
<rect x="653.08" y="469.5" width="1.5" height="56.7" fill="#e11f1f"/>
<rect x="651.53" y="470.3" width="4.6" height="54.6" fill="#e63c3c" stroke="#e11f1f" stroke-width="0.9"/>
<rect x="659.32" y="443.2" width="1.5" height="69.8" fill="#e11f1f"/>
<rect x="657.77" y="452.1" width="4.6" height="21.8" fill="#e63c3c" stroke="#e11f1f" stroke-width="0.9"/>
<rect x="665.76" y="407.0" width="1.5" height="47.4" fill="#e11f1f"/>
<rect x="664.21" y="414.9" width="4.6" height="39.1" fill="#e63c3c" stroke="#e11f1f" stroke-width="0.9"/>
<rect x="672.15" y="403.2" width="1.5" height="61.1" fill="#2460e0"/>
<rect x="670.60" y="417.4" width="4.6" height="45.6" fill="#3f74e4" stroke="#2460e0" stroke-width="0.9"/>
<rect x="678.74" y="387.2" width="1.5" height="77.1" fill="#e11f1f"/>
<rect x="677.19" y="402.6" width="4.6" height="60.4" fill="#e63c3c" stroke="#e11f1f" stroke-width="0.9"/>
<rect x="685.33" y="385.7" width="1.5" height="45.5" fill="#e11f1f"/>
<rect x="683.78" y="403.4" width="4.6" height="1.4" fill="#e63c3c" stroke="#e11f1f" stroke-width="0.9"/>
<rect x="691.52" y="353.4" width="1.5" height="51.8" fill="#e11f1f"/>
<rect x="689.97" y="357.0" width="4.6" height="47.8" fill="#e63c3c" stroke="#e11f1f" stroke-width="0.9"/>
</g>
<rect x="2" y="23.7" width="803.5" height="1.8" fill="#2a2a2a"/>
<rect x="803.6" y="23.7" width="1.9" height="561.3" fill="#1e1e1e"/>
<path d="M700.5 356.6 L709.9 348.4 L709.9 364.8 Z" fill="#ff0000"/>
<g opacity="0.999">
<text transform="translate(47.60,21.70) scale(1.0,1)" x="0.00 8.65 17.30 25.95" y="0" font-family="Liberation Sans, sans-serif" text-rendering="geometricPrecision" font-size="18" fill="#151515" stroke="#f2f2f2" stroke-width="0.15">2022</text>
<line x1="83.90" y1="21.8" x2="92.20" y2="9.3" stroke="#222" stroke-width="1.15"/>
<text transform="translate(47.60,21.70) scale(1.0,1)" x="43.25" y="0" font-family="Liberation Sans, sans-serif" text-rendering="geometricPrecision" font-size="18" fill="#151515" stroke="#f2f2f2" stroke-width="0.15">0</text>
<path d="M101.80 12.5 L104.50 9.8 L104.50 21.8" stroke="#222" stroke-width="1.25" fill="none" stroke-linejoin="bevel"/>
<text transform="translate(181.30,21.70) scale(1.0,1)" x="0.00 8.65 17.30 25.95" y="0" font-family="Liberation Sans, sans-serif" text-rendering="geometricPrecision" font-size="18" fill="#151515" stroke="#f2f2f2" stroke-width="0.15">2022</text>
<line x1="217.60" y1="21.8" x2="225.90" y2="9.3" stroke="#222" stroke-width="1.15"/>
<text transform="translate(181.30,21.70) scale(1.0,1)" x="43.25 51.90" y="0" font-family="Liberation Sans, sans-serif" text-rendering="geometricPrecision" font-size="18" fill="#151515" stroke="#f2f2f2" stroke-width="0.15">02</text>
<text transform="translate(309.10,21.70) scale(1.0,1)" x="0.00 8.65 17.30 25.95" y="0" font-family="Liberation Sans, sans-serif" text-rendering="geometricPrecision" font-size="18" fill="#151515" stroke="#f2f2f2" stroke-width="0.15">2022</text>
<line x1="345.40" y1="21.8" x2="353.70" y2="9.3" stroke="#222" stroke-width="1.15"/>
<text transform="translate(309.10,21.70) scale(1.0,1)" x="43.25 51.90" y="0" font-family="Liberation Sans, sans-serif" text-rendering="geometricPrecision" font-size="18" fill="#151515" stroke="#f2f2f2" stroke-width="0.15">03</text>
<text transform="translate(455.80,21.70) scale(1.0,1)" x="0.00 8.65 17.30 25.95" y="0" font-family="Liberation Sans, sans-serif" text-rendering="geometricPrecision" font-size="18" fill="#151515" stroke="#f2f2f2" stroke-width="0.15">2022</text>
<line x1="492.10" y1="21.8" x2="500.40" y2="9.3" stroke="#222" stroke-width="1.15"/>
<text transform="translate(455.80,21.70) scale(1.0,1)" x="43.25 51.90" y="0" font-family="Liberation Sans, sans-serif" text-rendering="geometricPrecision" font-size="18" fill="#151515" stroke="#f2f2f2" stroke-width="0.15">04</text>
<text transform="translate(590.10,21.70) scale(1.0,1)" x="0.00 8.65 17.30 25.95" y="0" font-family="Liberation Sans, sans-serif" text-rendering="geometricPrecision" font-size="18" fill="#151515" stroke="#f2f2f2" stroke-width="0.15">2022</text>
<line x1="626.40" y1="21.8" x2="634.70" y2="9.3" stroke="#222" stroke-width="1.15"/>
<text transform="translate(590.10,21.70) scale(1.0,1)" x="43.25 51.90" y="0" font-family="Liberation Sans, sans-serif" text-rendering="geometricPrecision" font-size="18" fill="#151515" stroke="#f2f2f2" stroke-width="0.15">05</text>
<text transform="translate(816.00,61.70) scale(0.96,1)" x="0.00 9.27 13.23 22.40 31.56 40.73 49.90" y="0" font-family="Liberation Sans, sans-serif" text-rendering="geometricPrecision" font-size="18" fill="#151515" stroke="#f2f2f2" stroke-width="0.15">0.76000</text>
<text transform="translate(816.00,124.36) scale(0.96,1)" x="0.00 9.27 13.23 22.40 31.56 40.73 49.90" y="0" font-family="Liberation Sans, sans-serif" text-rendering="geometricPrecision" font-size="18" fill="#151515" stroke="#f2f2f2" stroke-width="0.15">0.75000</text>
<text transform="translate(816.00,187.02) scale(0.96,1)" x="0.00 9.27 13.23 22.40 31.56 40.73 49.90" y="0" font-family="Liberation Sans, sans-serif" text-rendering="geometricPrecision" font-size="18" fill="#151515" stroke="#f2f2f2" stroke-width="0.15">0.74000</text>
<text transform="translate(816.00,249.68) scale(0.96,1)" x="0.00 9.27 13.23 22.40 31.56 40.73 49.90" y="0" font-family="Liberation Sans, sans-serif" text-rendering="geometricPrecision" font-size="18" fill="#151515" stroke="#f2f2f2" stroke-width="0.15">0.73000</text>
<text transform="translate(816.00,312.34) scale(0.96,1)" x="0.00 9.27 13.23 22.40 31.56 40.73 49.90" y="0" font-family="Liberation Sans, sans-serif" text-rendering="geometricPrecision" font-size="18" fill="#151515" stroke="#f2f2f2" stroke-width="0.15">0.72000</text>
<text transform="translate(816.00,375.00) scale(0.96,1)" x="0.00 9.27 13.23 22.40 31.56 40.73 49.90" y="0" font-family="Liberation Sans, sans-serif" text-rendering="geometricPrecision" font-size="18" fill="#151515" stroke="#f2f2f2" stroke-width="0.15">0.71000</text>
<text transform="translate(816.00,437.66) scale(0.96,1)" x="0.00 9.27 13.23 22.40 31.56 40.73 49.90" y="0" font-family="Liberation Sans, sans-serif" text-rendering="geometricPrecision" font-size="18" fill="#151515" stroke="#f2f2f2" stroke-width="0.15">0.70000</text>
<text transform="translate(816.00,500.32) scale(0.96,1)" x="0.00 9.27 13.23 22.40 31.56 40.73 49.90" y="0" font-family="Liberation Sans, sans-serif" text-rendering="geometricPrecision" font-size="18" fill="#151515" stroke="#f2f2f2" stroke-width="0.15">0.69000</text>
<text transform="translate(816.00,562.98) scale(0.96,1)" x="0.00 9.27 13.23 22.40 31.56 40.73 49.90" y="0" font-family="Liberation Sans, sans-serif" text-rendering="geometricPrecision" font-size="18" fill="#151515" stroke="#f2f2f2" stroke-width="0.15">0.68000</text>
<text transform="translate(713.30,353.80) scale(0.93,1)" x="0.00 9.09 13.60 22.69 31.77 40.86 49.95" y="0" font-family="Liberation Sans, sans-serif" text-rendering="geometricPrecision" font-size="16.5" fill="#ff2020">0.71198</text>
<text transform="translate(713.30,371.00) scale(0.93,1)" x="0.00 9.09 13.60 22.69 31.77 40.86 49.95" y="0" font-family="Liberation Sans, sans-serif" text-rendering="geometricPrecision" font-size="16.5" fill="#2242e0">0.71193</text>
<text transform="translate(49.90,234.50) scale(0.93,1)" x="0.00 9.09 13.60 22.69 31.77 40.86 49.95" y="0" font-family="Liberation Sans, sans-serif" text-rendering="geometricPrecision" font-size="16.5" fill="#ff1f4a">0.73136</text>
<text transform="translate(119.80,472.50) scale(0.93,1)" x="0.00 9.09 13.60 22.69 31.77 40.86 49.95" y="0" font-family="Liberation Sans, sans-serif" text-rendering="geometricPrecision" font-size="16.5" fill="#1e8fff">0.69677</text>
<text transform="translate(592.20,558.90) scale(0.93,1)" x="0.00 9.09 13.60 22.69 31.77 40.86 49.95" y="0" font-family="Liberation Sans, sans-serif" text-rendering="geometricPrecision" font-size="16.5" fill="#1e8fff">0.68284</text>
</g>
</svg>
</body></html>
